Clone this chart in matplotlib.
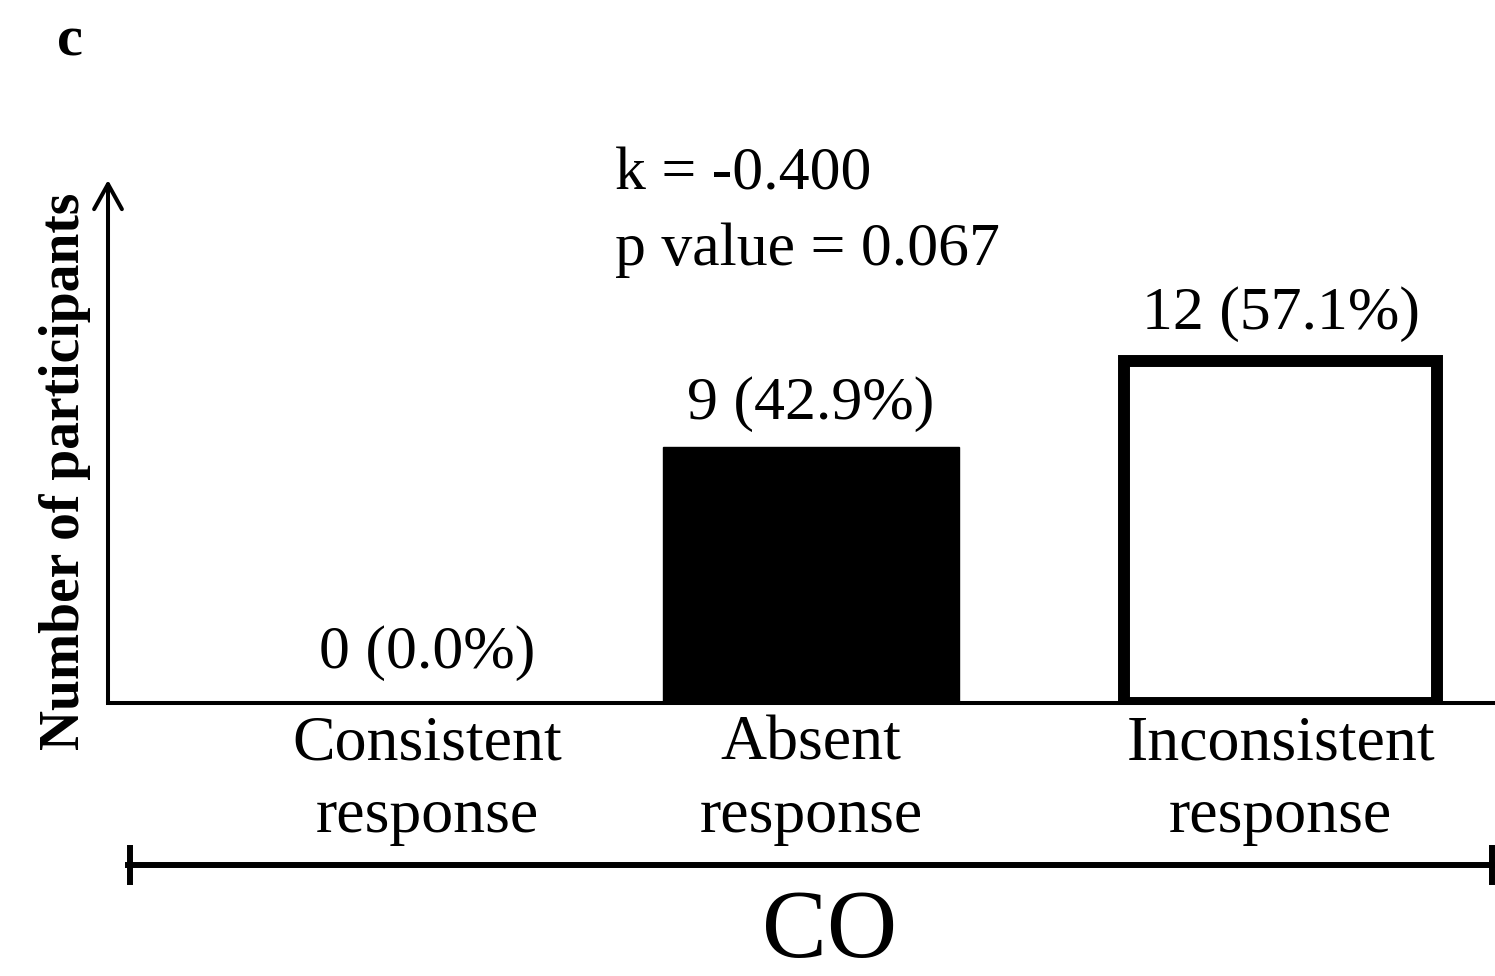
import matplotlib
matplotlib.use('Agg')
import matplotlib.pyplot as plt
from matplotlib.lines import Line2D

categories = ["Consistent\nresponse", "Absent\nresponse", "Inconsistent\nresponse"]
counts = [0, 9, 12]
percents = [0.0, 42.9, 57.1]
group_label = "CO"
stat_lines = ["k = -0.400", "p value = 0.067"]
panel_label = "c"
ylabel = "Number of participants"

plt.rcParams['font.family'] = ['Liberation Serif', 'DejaVu Serif']

W, H = 1495, 976
fig = plt.figure(figsize=(W / 100, H / 100), dpi=100)


def fx(px):
    return px / W


def fy(py):
    return 1 - py / H


ax = fig.add_axes([fx(108), fy(703), fx(1495) - fx(108), fy(180) - fy(703)])
positions = [0.0, 1.0, 2.223]
widths = [0.78, 0.773, 0.815]
faces = ['white', 'black', 'white']
edgew = [2.0, 1.0, 8.6]
ax.bar(positions, counts, width=widths, color=faces, edgecolor='black',
       linewidth=edgew, zorder=2)
ax.set_xlim((108 - 427) / 384, (1495 - 427) / 384)
ax.set_ylim(0, 523 / 28.5)

for s in ['top', 'right', 'left']:
    ax.spines[s].set_visible(False)
ax.spines['bottom'].set_linewidth(2.9)
ax.spines['bottom'].set_zorder(3)
ax.set_yticks([])
ax.set_xticks(positions)
ax.set_xticklabels(categories, fontsize=46, linespacing=1.32)
ax.tick_params(axis='x', length=0, pad=9)

ax.annotate('', xy=(0, 1), xycoords='axes fraction', xytext=(0, 0),
            textcoords='axes fraction',
            arrowprops=dict(arrowstyle='->,head_length=0.9,head_width=0.5',
                            lw=2.9, color='black', shrinkA=0, shrinkB=0,
                            mutation_scale=20),
            annotation_clip=False)

offsets = [25, 20, 23]
for pos, c, p, off in zip(positions, counts, percents, offsets):
    ax.annotate(f"{c} ({p:.1f}%)", xy=(pos, c), xytext=(0, off),
                textcoords='offset points', ha='center', va='baseline',
                fontsize=44.5, annotation_clip=False)

fig.text(fx(615), fy(190), stat_lines[0], fontsize=44.5, va='baseline', ha='left')
fig.text(fx(615), fy(265), stat_lines[1], fontsize=44.5, va='baseline', ha='left')

fig.text(fx(830), fy(957), group_label, fontsize=70, ha='center', va='baseline')
fig.text(fx(65), fy(471), ylabel, rotation=90, ha='center', va='center',
         fontweight='bold', fontsize=40)
fig.text(fx(57), fy(55), panel_label, fontweight='bold', fontsize=42,
         va='baseline', ha='left')

lw_b = 4.3
fig.add_artist(Line2D([fx(128), fx(1495)], [fy(865), fy(865)], lw=lw_b, color='black'))
fig.add_artist(Line2D([fx(130), fx(130)], [fy(848), fy(882)], lw=lw_b, color='black'))
fig.add_artist(Line2D([fx(1492), fx(1492)], [fy(848), fy(882)], lw=lw_b, color='black'))

fig.savefig('out.png', dpi=100, facecolor='white')
